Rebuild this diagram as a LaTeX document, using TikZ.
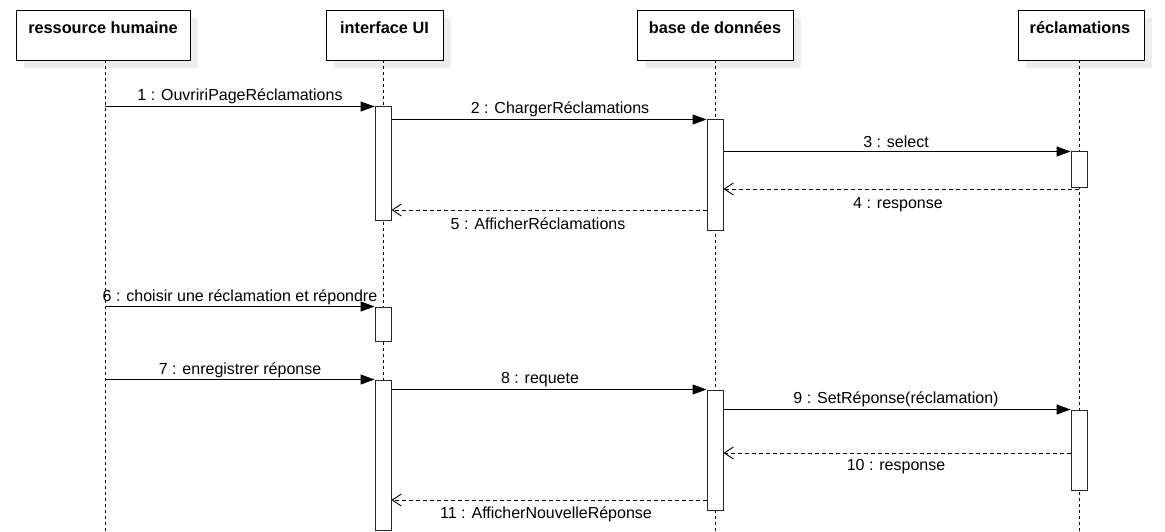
\documentclass[tikz,border=0pt]{standalone}
\usepackage{fontspec}
\setmainfont{Liberation Sans}
\usetikzlibrary{arrows.meta}
\tikzset{
  head/.style={draw, line width=1pt, fill=white, inner sep=0pt, anchor=north west},
  htxt/.style={font=\fontsize{16.3}{18}\selectfont\bfseries, inner sep=0pt},
  life/.style={line width=0.9pt, dash pattern=on 3pt off 3pt},
  act/.style={draw=black!85, line width=1pt, fill=white, minimum width=16pt, inner sep=0pt},
  call/.style={line width=1pt, -{Triangle[length=14pt,width=10pt]}},
  ret/.style={line width=0.9pt, dash pattern=on 4pt off 3pt, -{Straight Barb[length=9pt,width=12pt,line width=0.9pt]}},
  lbl/.style={font=\fontsize{16}{18}\selectfont, inner sep=0pt}
}
\begin{document}
\begin{tikzpicture}[x=1pt, y=-1pt]
\useasboundingbox (0,0) rectangle (1165,532);
% shadows
\fill[black!7] (24,18) rectangle (198,68);
\fill[black!7] (334,18) rectangle (451,68);
\fill[black!7] (645,18) rectangle (801,68);
\fill[black!7] (1026,18) rectangle (1152,68);
% header boxes
\node[head, minimum width=174pt, minimum height=50pt] (h1) at (16,10) {};
\node[head, minimum width=117pt, minimum height=50pt] (h2) at (326,10) {};
\node[head, minimum width=156pt, minimum height=50pt] (h3) at (637,10) {};
\node[head, minimum width=126pt, minimum height=50pt] (h4) at (1018,10) {};
\node[htxt] (t1) at (103,27.5) {ressource humaine};
\node[htxt] (t2) at (384.5,27.5) {interface UI};
\node[htxt] (t3) at (715,27.5) {base de données};
\node[htxt] (t4) at (1080,27.5) {réclamations};
% lifelines
\coordinate (e1) at (105,532);
\coordinate (e2) at (383,532);
\coordinate (e3) at (715,532);
\coordinate (e4) at (1079,532);
\draw[life] (105,60) -- (e1);
\draw[life] (383,60) -- (e2);
\draw[life] (715,60) -- (e3);
\draw[life] (1079,60) -- (e4);
% activations
\node[act, minimum height=113pt] (a1) at (383,163.5) {};
\node[act, minimum height=110pt] (a2) at (715,175) {};
\node[act, minimum height=35pt] (a3) at (1079,169.5) {};
\node[act, minimum height=34pt] (a4) at (383,324) {};
\node[act, minimum height=150pt] (a5) at (383,455) {};
\node[act, minimum height=120pt] (a6) at (715,450) {};
\node[act, minimum height=80pt] (a7) at (1079,450) {};
% messages
\draw[call] (e1 |- a1.north) -- (a1.north west);
\node[lbl] (m1) at (240,96.5) {1 : OuvririPageRéclamations};
\draw[call] (a1.east |- a2.north) -- (a2.north west);
\node[lbl] (m2) at (560,109.5) {2 : ChargerRéclamations};
\draw[call] (a2.east |- a3.north) -- (a3.north west);
\node[lbl] (m3) at (896,141.5) {3 : select};
\draw[ret] (e4 |- 0,189) -- (a2.east |- 0,189);
\node[lbl] (m4) at (898,205) {4 : response};
\draw[ret] (a2.west |- 0,210) -- (a1.east |- 0,210);
\node[lbl] (m5) at (538,224) {5 : AfficherRéclamations};
\draw[call] (e1 |- a4.north) -- (a4.north west);
\node[lbl] (m6) at (240,297.5) {6 : choisir une réclamation et répondre};
\draw[call] (e1 |- a5.north) -- (a5.north west);
\node[lbl] (m7) at (240,370.5) {7 : enregistrer réponse};
\draw[call] (a5.east |- a6.north) -- (a6.north west);
\node[lbl] (m8) at (540,379.5) {8 : requete};
\draw[call] (a6.east |- a7.north) -- (a7.north west);
\node[lbl] (m9) at (896,399.5) {9 : SetRéponse(réclamation)};
\draw[ret] (a7.west |- 0,453) -- (a6.east |- 0,453);
\node[lbl] (m10) at (896,467) {10 : response};
\draw[ret] (a6.west |- 0,500) -- (a5.east |- 0,500);
\node[lbl] (m11) at (546,514) {11 : AfficherNouvelleRéponse};
\end{tikzpicture}
\end{document}
